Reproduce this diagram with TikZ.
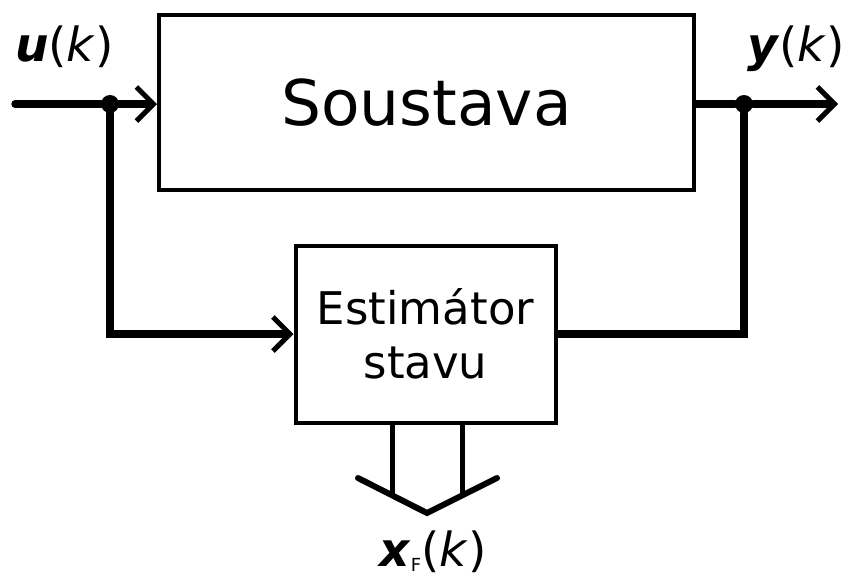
\documentclass[tikz,border=0pt]{standalone}
\usepackage{fontspec}
\setmainfont{DejaVu Sans}
\usetikzlibrary{arrows.meta,positioning,calc}

\begin{document}
\begin{tikzpicture}[x=1pt, y=-1pt, line cap=round,
    >={Straight Barb[length=17pt,width=34pt,line width=5pt]},
    blok/.style={draw, line width=4pt, rectangle, inner sep=0pt},
    signal/.style={line width=7.5pt},
    uzel/.style={circle, fill, inner sep=0pt, minimum size=18pt},
    popis/.style={inner sep=0pt, font=\fontsize{47}{50}\selectfont}]
    \useasboundingbox (0,0) rectangle (848,574);
    % bloky
    \node[blok, minimum width=535pt, minimum height=175pt, font=\fontsize{63}{70}\selectfont] (sys) at (426.5,102.5) {Soustava};
    \node[blok, minimum width=260pt, minimum height=177pt, align=center, font=\fontsize{45}{54}\selectfont] (est) at (425.5,334) {Estimátor\\stavu};
    % uzly a signaly
    \coordinate (vstup) at (15,104);
    \coordinate (vystup) at (838,104);
    \node[uzel] (ju) at (110,104) {};
    \node[uzel] (jy) at (744,104) {};
    \draw[signal] (vstup) -- (ju);
    \draw[signal,->] (ju) -- (ju -| sys.west);
    \draw[signal,->] (ju) |- (est.west);
    \draw[signal] (jy -| sys.east) -- (jy);
    \draw[signal,->] (jy) -- (vystup);
    \draw[signal] (jy) |- (est.east);
    % vektorovy vystup odhadu
    \draw[line width=5pt, line cap=butt] ([xshift=-33pt]est.south) -- ++(0,72);
    \draw[line width=5pt, line cap=butt] ([xshift=37pt]est.south) -- ++(0,72);
    \draw[line width=6pt, line join=miter] ([shift={(-67.5,53.5)}]est.south) -- ([shift={(1.5,88.5)}]est.south) -- ([shift={(71.5,53.5)}]est.south);
    % popisky
    \node[popis, anchor=base west] (ulab) at (15,61) {\textbf{\textit{u}}(\textit{k})};
    \node[popis, anchor=base east] (ylab) at (845,61) {\textbf{\textit{y}}(\textit{k})};
    \node[popis, anchor=base] (xlab) at (433,566) {\textbf{\textit{x}}\raisebox{-5pt}{\fontsize{18}{18}\selectfont F}(\textit{k})};
\end{tikzpicture}
\end{document}
